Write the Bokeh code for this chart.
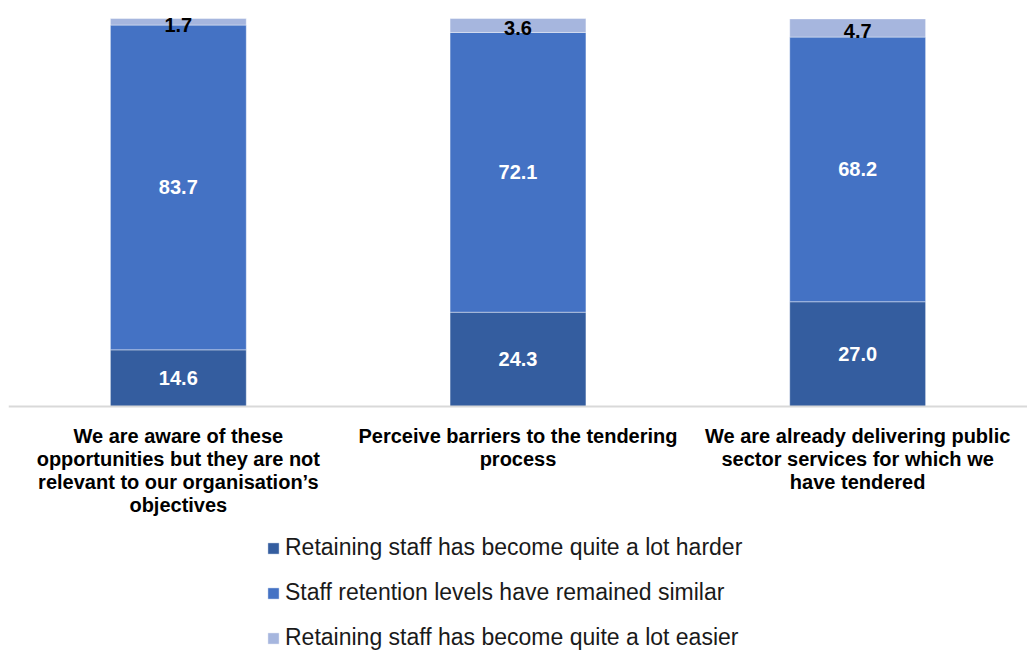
import numpy as np
from bokeh.plotting import figure
from bokeh.models import ColumnDataSource, Legend, LegendItem, FactorRange, Span
from bokeh.core.properties import value
from bokeh.embed import file_html
from bokeh.resources import INLINE

categories = [
    "We are aware of these\nopportunities but they are not\nrelevant to our organisation\u2019s\nobjectives",
    "Perceive barriers to the tendering\nprocess",
    "We are already delivering public\nsector services for which we\nhave tendered",
]
harder = [14.6, 24.3, 27.0]
similar = [83.7, 72.1, 68.2]
easier = [1.7, 3.6, 4.7]
series_names = [
    "Retaining staff has become quite a lot harder",
    "Staff retention levels have remained similar",
    "Retaining staff has become quite a lot easier",
]
colors = ["#345D9F", "#4472C4", "#A6B6DE"]

FONT = "Liberation Sans"

# layout: 100 units of value span 388 px; bar tops sit 18 px below the top,
# and the frame continues below the baseline for labels and legend
PX_PER_UNIT = 388.0 / 100
TOP_GAP = 18
FRAME_H = 650
y_end = 100 + TOP_GAP / PX_PER_UNIT
y_start = y_end - FRAME_H / PX_PER_UNIT

p = figure(x_range=FactorRange(*categories), y_range=(y_start, y_end),
           frame_width=1019, frame_height=FRAME_H, output_backend="svg",
           toolbar_location=None,
           min_border_left=8, min_border_right=0, min_border_top=0,
           min_border_bottom=0)

series = [harder, similar, easier]
bottom = np.zeros(len(categories))
renderers = []
for vals, col, name in zip(series, colors, series_names):
    vals = np.array(vals)
    src = ColumnDataSource(dict(x=categories, top=bottom + vals, bottom=bottom,
                                mid=bottom + vals / 2,
                                lab=[f"{v:.1f}" for v in vals]))
    r = p.vbar(x="x", top="top", bottom="bottom", width=0.4, source=src,
               fill_color=col, line_color="white", line_alpha=0.5, line_width=0.8)
    renderers.append(r)
    tcol = "black" if col == colors[2] else "white"
    p.text(x="x", y="mid", text="lab", source=src, text_align="center",
           text_baseline="middle", text_color=tcol,
           text_font=value(FONT), text_font_style="bold", text_font_size="20px",
           y_offset=3 if tcol == "black" else 0)
    bottom = bottom + vals

# baseline axis line
p.add_layout(Span(location=0, dimension="width", line_color="#D9D9D9", line_width=2))

# category labels under the baseline
cat_src = ColumnDataSource(dict(x=categories, y=[0] * len(categories), t=categories))
p.text(x="x", y="y", text="t", source=cat_src, text_align="center",
       text_baseline="top", y_offset=18, text_color="black",
       text_font=value(FONT), text_font_style="bold", text_font_size="20px",
       text_line_height=1.05)

p.xaxis.visible = False
p.yaxis.visible = False
p.grid.visible = False
p.outline_line_color = None

legend = Legend(items=[LegendItem(label=n, renderers=[r]) for n, r in zip(series_names, renderers)],
                location=(258, -1), orientation="vertical",
                label_text_font=FONT, label_text_font_size="23px",
                label_text_color="#1a1a1a", label_height=26,
                glyph_width=14, glyph_height=14, label_standoff=5,
                spacing=18, border_line_color=None, background_fill_alpha=0,
                padding=0, margin=0)
p.add_layout(legend, "center")

open("out.html", "w").write(file_html(p, INLINE))
